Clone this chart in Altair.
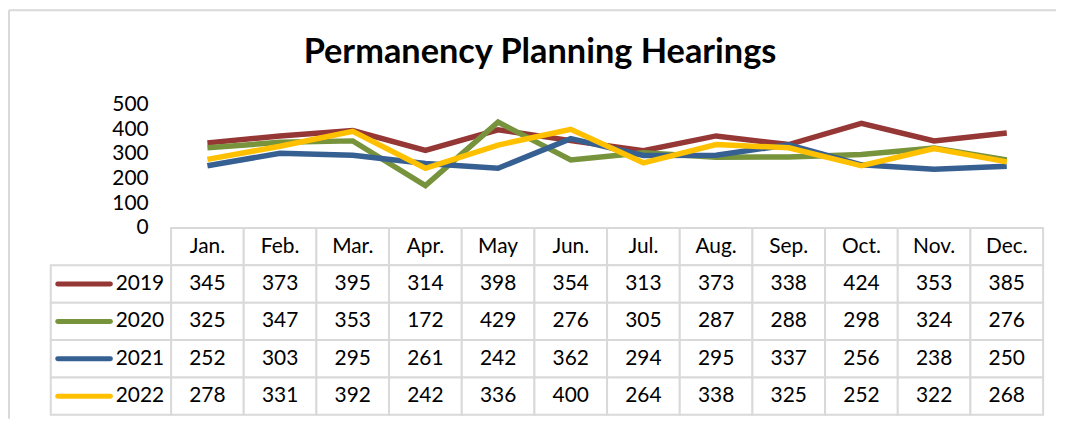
import altair as alt
import pandas as pd

# ---- data ----
months = ["Jan.", "Feb.", "Mar.", "Apr.", "May", "Jun.", "Jul.", "Aug.", "Sep.", "Oct.", "Nov.", "Dec."]
years = ["2019", "2020", "2021", "2022"]
v2019 = [345, 373, 395, 314, 398, 354, 313, 373, 338, 424, 353, 385]
v2020 = [325, 347, 353, 172, 429, 276, 305, 287, 288, 298, 324, 276]
v2021 = [252, 303, 295, 261, 242, 362, 294, 295, 337, 256, 238, 250]
v2022 = [278, 331, 392, 242, 336, 400, 264, 338, 325, 252, 322, 268]
series_values = [v2019, v2020, v2021, v2022]
colors = ["#953735", "#77933C", "#376092", "#FFC000"]
y_ticks = [0, 100, 200, 300, 400, 500]
title_text = "Permanency Planning Hearings"

FONT = "Lato"
GRID = "#D9D9D9"
W = 877
H_TOP = 124
H_TAB = 188
FS = 21

long = pd.DataFrame(
    [{"month": m, "year": y, "value": v}
     for y, vals in zip(years, series_values)
     for m, v in zip(months, vals)]
)

color_scale = alt.Scale(domain=years, range=colors)

lines = alt.Chart(long).mark_line(strokeWidth=5.5).encode(
    x=alt.X("month:N", sort=months, scale=alt.Scale(type="point", padding=0.5), axis=None),
    y=alt.Y(
        "value:Q",
        scale=alt.Scale(domain=[0, 500], nice=False),
        axis=alt.Axis(values=y_ticks, grid=False, domain=False, ticks=False,
                      labelFont=FONT, labelFontSize=FS, labelColor="black",
                      labelPadding=23, title=None),
    ),
    color=alt.Color("year:N", scale=color_scale, legend=None),
)

title = alt.Chart(pd.DataFrame({"t": [title_text]})).mark_text(
    font=FONT, fontSize=34.5, fontWeight="bold", align="center", baseline="middle", color="black"
).encode(text="t:N", x=alt.value(371), y=alt.value(-52))

frame = pd.DataFrame({"k": [0]})
top_rule = alt.Chart(frame).mark_rule(color=GRID, strokeWidth=2).encode(
    x=alt.value(-163), x2=alt.value(890), y=alt.value(-95))
left_rule = alt.Chart(frame).mark_rule(color=GRID, strokeWidth=2).encode(
    x=alt.value(-163), y=alt.value(-95), y2=alt.value(H_TOP + H_TAB + 4))

top = alt.layer(top_rule, left_rule, lines, title).properties(width=W, height=H_TOP)

# ---- data table ----
rows = ["Month"] + years
cell_records = [{"row": "Month", "month": m, "label": m} for m in months]
for y, vals in zip(years, series_values):
    for m, v in zip(months, vals):
        cell_records.append({"row": y, "month": m, "label": str(v)})
cells = pd.DataFrame(cell_records)

xb = alt.X("month:N", sort=months,
           scale=alt.Scale(type="band", domain=months, paddingInner=0, paddingOuter=0), axis=None)
yb = alt.Y("row:N", sort=rows,
           scale=alt.Scale(type="band", domain=rows, paddingInner=0, paddingOuter=0), axis=None)

grid = alt.Chart(cells).mark_rect(fill="white", stroke=GRID, strokeWidth=2).encode(x=xb, y=yb)
txt = alt.Chart(cells).mark_text(font=FONT, fontSize=FS, color="black", baseline="middle").encode(
    x=xb, y=yb, text="label:N")

leg = pd.DataFrame({"row": years})
leg_cells = alt.Chart(leg).mark_rect(fill="white", stroke=GRID, strokeWidth=2).encode(
    x=alt.value(-121), x2=alt.value(0), y=yb)
swatch = alt.Chart(leg).mark_rule(strokeWidth=5, strokeCap="round").encode(
    x=alt.value(-114), x2=alt.value(-61),
    y=alt.Y("row:N", sort=rows, bandPosition=0.5,
            scale=alt.Scale(type="band", domain=rows, paddingInner=0, paddingOuter=0), axis=None),
    color=alt.Color("row:N", scale=color_scale, legend=None),
)
leg_labels = alt.Chart(leg).mark_text(font=FONT, fontSize=FS, color="black", align="right",
                                      baseline="middle").encode(
    x=alt.value(-7), y=yb, text="row:N")

table = alt.layer(grid, leg_cells, txt, swatch, leg_labels).properties(width=W, height=H_TAB)

chart = alt.vconcat(top, table, spacing=0, bounds="flush").properties(
    padding={"left": 0, "top": 0, "right": 4, "bottom": 0}
).configure_view(strokeWidth=0)

chart.save("out.html", embed_options={"renderer": "svg", "actions": False})
